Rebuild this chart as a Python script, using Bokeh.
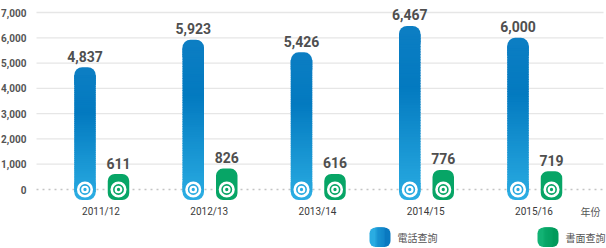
import numpy as np
from bokeh.plotting import figure
from bokeh.models import Range1d
from bokeh.core.properties import value
from bokeh.embed import file_html
from bokeh.resources import INLINE

# ---------------- data ----------------
years = ["2011/12", "2012/13", "2013/14", "2014/15", "2015/16"]
phone_enquiries = [4837, 5923, 5426, 6467, 6000]
written_enquiries = [611, 826, 616, 776, 719]
y_ticks = [0, 1000, 2000, 3000, 4000, 5000, 6000, 7000]
series_names = ["電話查詢", "書面查詢"]
x_title = "年份"

# ---------------- layout helpers (pixel geometry) ----------------
W, H = 606, 248
K = 177.0 / 7000.0          # px per value unit
ZERO_PY = 189.0
X0_PX, XU_PX = 100.5, 108.25


def yv(py):
    return (ZERO_PY - py) / K


def xv(px):
    return (px - X0_PX) / XU_PX


def pxw(px):
    return px / XU_PX


def pxh(px):
    return px / K


def hex2rgb(h):
    h = h.lstrip("#")
    return np.array([int(h[i:i + 2], 16) for i in (0, 2, 4)], float)


def rgb2hex(c):
    c = np.clip(np.round(c), 0, 255).astype(int)
    return "#%02x%02x%02x" % tuple(c)


def grad(stops, t):
    for (t0, c0), (t1, c1) in zip(stops[:-1], stops[1:]):
        if t <= t1:
            f = 0 if t1 == t0 else (t - t0) / (t1 - t0)
            return rgb2hex(hex2rgb(c0) * (1 - f) + hex2rgb(c1) * f)
    return stops[-1][1]


BLUE_STOPS = [(0.0, "#0c7ec3"), (0.35, "#037ac0"), (1.0, "#2aace2")]
GREEN = "#07a566"

p = figure(width=W, height=H, output_backend="svg", toolbar_location=None,
           x_range=Range1d(xv(0), xv(W)), y_range=Range1d(yv(H), yv(0)),
           min_border=0)
p.outline_line_color = None
p.axis.visible = False
p.grid.visible = False
p.background_fill_color = "white"
p.border_fill_color = "white"

# ---- grid lines & y tick labels ----
grid_ticks = [t for t in y_ticks if t > 0]
p.segment(x0=[xv(36)] * len(grid_ticks), x1=[xv(603)] * len(grid_ticks),
          y0=grid_ticks, y1=grid_ticks, line_color="#e6e6e6", line_width=1.3)
p.segment(x0=[xv(36)], x1=[xv(603)], y0=[0], y1=[0], line_color="#c4c4c4",
          line_width=1.6, line_dash="2 4")
p.text(x=[xv(26)] * len(y_ticks), y=y_ticks, text=[f"{t:,}" for t in y_ticks],
       text_align="right", text_baseline="middle", text_font=value("Roboto"),
       text_font_size="10px", text_font_style="bold", text_color="#555555")

n = len(years)
xs = np.arange(n, dtype=float)
bar_w = pxw(21.5)
blue_x = xs + pxw(-16)
green_x = xs + pxw(17.5)
base = yv(199.5)
R = 8
r_u = pxh(R)

# ---- blue gradient bars ----
for bx, v in zip(blue_x, phone_enquiries):
    top_col = grad(BLUE_STOPS, 0.0)
    bot_col = grad(BLUE_STOPS, 1.0)
    p.vbar(x=[bx], top=[v], bottom=[v - 2.2 * r_u], width=bar_w,
           fill_color=top_col, line_color=None, border_radius=(R, R, 0, 0))
    p.vbar(x=[bx], top=[base + 2.2 * r_u], bottom=[base], width=bar_w,
           fill_color=bot_col, line_color=None, border_radius=(0, 0, R, R))
    lo, hi = base + r_u, v - r_u
    N = 60
    edges = np.linspace(lo, hi, N + 1)
    h = edges[1] - edges[0]
    bots = edges[:-1]
    tops = edges[1:] + 0.4 * h
    tops[-1] = edges[-1]
    cols = [grad(BLUE_STOPS, (v - (b + h / 2)) / (v - base)) for b in bots]
    p.quad(left=bx - bar_w / 2, right=bx + bar_w / 2, bottom=bots, top=tops,
           fill_color=cols, line_color=None)

# ---- green bars ----
p.vbar(x=green_x, top=written_enquiries, bottom=base, width=bar_w,
       fill_color=GREEN, line_color=None, border_radius=7)

# ---- icons at the baseline ----
for cx, col in ((blue_x, "#2aace2"), (green_x, GREEN)):
    p.scatter(x=cx, y=[0] * n, marker="circle", size=13.5, fill_alpha=0,
              line_color="white", line_width=2.6)
    p.scatter(x=cx, y=[0] * n, marker="circle", size=5.5, fill_color=col,
              line_color="white", line_width=2.2)

# ---- value labels ----
for bx_arr, vals in ((blue_x, phone_enquiries), (green_x, written_enquiries)):
    p.text(x=bx_arr, y=vals, text=[f"{v:,}" for v in vals],
           text_align="center", text_baseline="middle", y_offset=-11,
           text_font=value("Roboto"), text_font_size="14px",
           text_font_style="bold", text_color="#4f4f4f")

# ---- category labels ----
p.text(x=xs, y=[yv(211)] * n, text=years, text_align="center",
       text_baseline="middle", text_font=value("Roboto"),
       text_font_size="10px", text_color="#3a3a3a")
p.text(x=[xv(590)], y=[yv(211)], text=[x_title], text_align="center",
       text_baseline="middle", text_font=value("Noto Sans CJK TC"),
       text_font_size="10px", text_color="#555555")

# ---- legend ----
LEG = [(369, ("#2aace2", "#0a79c0")), (537, ("#12b274", "#019a5b"))]
for (lx, (c_left, c_right)), name in zip(LEG, series_names):
    l, r = xv(lx), xv(lx + 21)
    t, b = yv(227), yv(246.5)
    cr = 6
    cw = pxw(cr)
    p.quad(left=[l], right=[l + 2.2 * cw], top=[t], bottom=[b],
           fill_color=c_left, line_color=None, border_radius=(cr, 0, 0, cr))
    p.quad(left=[r - 2.2 * cw], right=[r], top=[t], bottom=[b],
           fill_color=c_right, line_color=None, border_radius=(0, cr, cr, 0))
    M = 20
    e = np.linspace(l + cw, r - cw, M + 1)
    ww = e[1] - e[0]
    cols = [grad([(0, c_left), (1, c_right)], ((a + ww / 2) - l) / (r - l)) for a in e[:-1]]
    rights = e[1:] + 0.4 * ww
    rights[-1] = e[-1]
    p.quad(left=e[:-1], right=rights, top=t, bottom=b, fill_color=cols,
           line_color=None)
    p.text(x=[xv(lx + 28)], y=[yv(236.5)], text=[name], text_align="left",
           text_baseline="middle", text_font=value("Noto Sans CJK TC"),
           text_font_size="10px", text_color="#555555")

open("out.html", "w").write(file_html(p, INLINE))
